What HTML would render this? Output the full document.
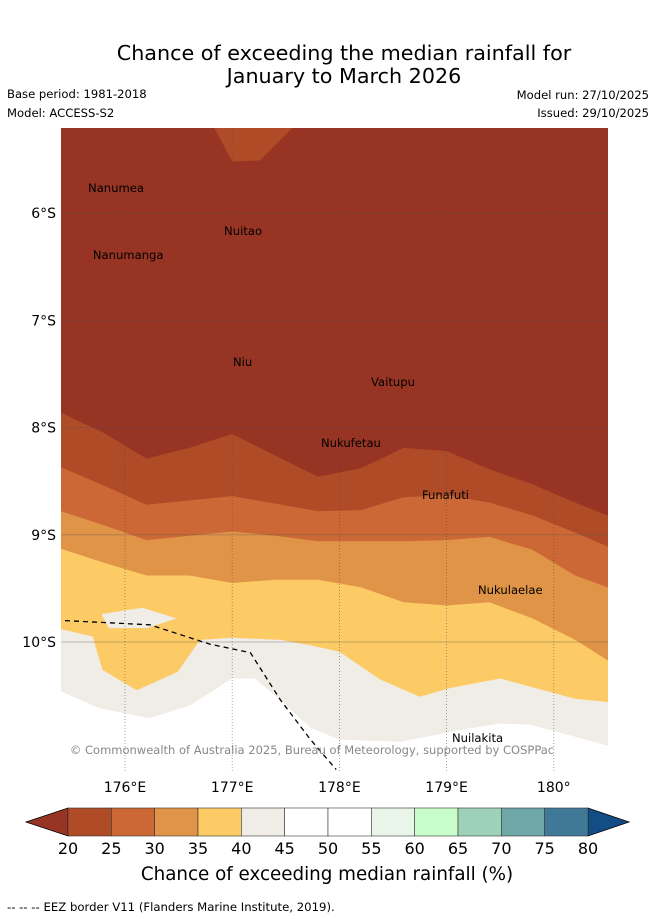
<!DOCTYPE html>
<html><head><meta charset="utf-8"><style>
body{margin:0;background:#fff;width:655px;height:919px;overflow:hidden;font-family:"DejaVu Sans","Liberation Sans",sans-serif}
svg{position:absolute;left:0;top:0}
</style></head><body>
<svg id="c" width="655" height="919" xmlns="http://www.w3.org/2000/svg">
<text x="344" y="60" text-anchor="middle" font-size="20.7">Chance of exceeding the median rainfall for</text>
<text x="344" y="83" text-anchor="middle" font-size="20.7">January to March 2026</text>
<text x="7" y="98" font-size="11.6">Base period: 1981-2018</text>
<text x="7" y="117" font-size="11.6">Model: ACCESS-S2</text>
<text x="649" y="99" font-size="11.6" text-anchor="end">Model run: 27/10/2025</text>
<text x="649" y="117" font-size="11.6" text-anchor="end">Issued: 29/10/2025</text>
<g id="map"></g>
<g id="cb"></g>
<text x="327" y="880" text-anchor="middle" font-size="18.3">Chance of exceeding median rainfall (%)</text>
<text x="7" y="911" font-size="11.7">-- -- -- EEZ border V11 (Flanders Marine Institute, 2019).</text>
</svg>
<script>
const lonGrid=[175.4,175.8,176.2,176.6,177.0,177.4,177.8,178.2,178.6,179.0,179.4,179.8,180.2,180.5];
const b1Lat=[7.86,8.05,8.29,8.19,8.06,8.26,8.46,8.38,8.19,8.22,8.39,8.53,8.70,8.82];
const b2Lat=[8.37,8.54,8.72,8.68,8.64,8.71,8.78,8.77,8.65,8.63,8.70,8.82,8.98,9.11];
const b3Lat=[8.78,8.91,9.05,9.01,8.97,9.01,9.06,9.06,9.06,9.05,9.02,9.14,9.38,9.49];
const b4Lat=[9.13,9.26,9.38,9.38,9.45,9.42,9.42,9.49,9.63,9.66,9.63,9.78,9.98,10.17];
const b5Lon=[175.40,175.70,175.73,175.79,176.11,176.49,176.70,177.00,177.45,177.73,178.00,178.38,178.75,179.03,179.50,179.87,180.20,180.51];
const b5Lat=[9.88,9.95,10.06,10.26,10.45,10.28,9.98,9.96,9.98,10.03,10.09,10.35,10.51,10.43,10.34,10.44,10.53,10.56];
const b6Lon=[175.40,175.77,176.23,176.61,177.00,177.21,177.45,177.73,178.00,178.57,179.13,179.50,179.78,180.15,180.51];
const b6Lat=[10.46,10.62,10.71,10.59,10.34,10.34,10.54,10.80,10.91,10.93,10.82,10.76,10.77,10.87,10.97];
const islandLon=[175.78,176.16,176.48,176.21,175.85];
const islandLat=[9.74,9.68,9.78,9.87,9.87];
const blobLon=[176.83,177.0,177.26,177.57];
const blobLat=[5.20,5.52,5.51,5.20];
const eezLon=[175.44,176.23,176.79,177.17,177.45,177.73,177.97];
const eezLat=[9.80,9.84,10.02,10.10,10.54,10.91,11.19];
const placeNames=["Nanumea","Nuitao","Nanumanga","Niu","Vaitupu","Nukufetau","Funafuti","Nukulaelae","Nuilakita"];
const placeLon=[175.655,176.924,175.70,177.007,178.295,177.828,178.770,179.293,179.05];
const placeLat=[5.804,6.205,6.429,7.427,7.613,8.182,8.667,9.552,10.932];
const lonTicks=[176,177,178,179,180];
const latTicks=[6,7,8,9,10];
const cbValues=[20,25,30,35,40,45,50,55,60,65,70,75,80];
const cbColors=["#b04b27","#cc6835","#e09448","#fdcb66","#f0ece6","#ffffff","#ffffff","#e9f5e9","#c8fcc8","#9dd1b8","#6fa6a8","#407998"];
const X0=61,X1=608,Y0=128,Y1=771;
const x=lon=>125+(lon-176)*107.2;
const y=lat=>213+(lat-6)*107.25;
const NS="http://www.w3.org/2000/svg";
const map=document.getElementById('map');
function mk(tag,attrs,parent){const e=document.createElementNS(NS,tag);for(const k in attrs)e.setAttribute(k,attrs[k]);(parent||map).appendChild(e);return e;}
const clip=mk('clipPath',{id:'mc'});mk('rect',{x:X0,y:Y0,width:X1-X0,height:Y1-Y0},clip);
const g=mk('g',{'clip-path':'url(#mc)'});
const bg=mk('rect',{x:X0,y:Y0,width:X1-X0,height:Y1-Y0,fill:'#983423'},g);


function band(lons,lats,fill,name){
  let d='M'+lons.map((l,i)=>x(l).toFixed(1)+','+y(lats[i]).toFixed(1)).join('L');
  d+='L'+(X1+5)+','+y(lats[lats.length-1]).toFixed(1)+'L'+(X1+5)+','+(Y1+5)+'L'+(X0-5)+','+(Y1+5)+'L'+(X0-5)+','+y(lats[0]).toFixed(1)+'Z';
  const p=mk('path',{d:d,fill:fill},g);
  
  
}
function poly(lons,lats,fill,name){
  const p=mk('polygon',{points:lons.map((l,i)=>x(l).toFixed(1)+','+y(lats[i]).toFixed(1)).join(' '),fill:fill},g);
  
  
}
band(lonGrid,b1Lat,'#b04b27','band-20-25');
poly(blobLon,blobLat,'#b04b27','band-20-25-north');
band(lonGrid,b2Lat,'#cc6835','band-25-30');
band(lonGrid,b3Lat,'#e09448','band-30-35');
band(lonGrid,b4Lat,'#fdcb66','band-35-40');
poly(islandLon,islandLat,'#f0ece6','band-40-45-pocket');
band(b5Lon,b5Lat,'#f0ece6','band-40-45');
band(b6Lon,b6Lat,'#ffffff','band-45-55');
lonTicks.forEach(l=>{const e=mk('line',{x1:x(l),x2:x(l),y1:Y0,y2:Y1,stroke:'#444','stroke-width':0.8,'stroke-dasharray':'1,2','stroke-opacity':0.6},g);


const t=mk('text',{x:x(l),y:Y1+21,'text-anchor':'middle','font-size':14});t.textContent=l+'°'+(l<180?'E':'');

});
latTicks.forEach(l=>{const e=mk('line',{x1:X0,x2:X1,y1:y(l),y2:y(l),stroke:'#555','stroke-width':1,'stroke-opacity':0.35},g);


const t=mk('text',{x:56,y:y(l)+5,'text-anchor':'end','font-size':14});t.textContent=l+'°S';

});
const eez=mk('polyline',{points:eezLon.map((l,i)=>x(l).toFixed(1)+','+y(eezLat[i]).toFixed(1)).join(' '),fill:'none',stroke:'#000','stroke-width':1.3,'stroke-dasharray':'5,4'},g);


placeNames.forEach((n,i)=>{const t=mk('text',{x:x(placeLon[i]),y:y(placeLat[i]),'text-anchor':'start','font-size':11.6},g);t.textContent=n;

});
const cr=mk('text',{x:312,y:754,'text-anchor':'middle','font-size':11.5,fill:'#888'},g);cr.textContent='© Commonwealth of Australia 2025, Bureau of Meteorology, supported by COSPPac';


const cb=document.getElementById('cb');
const cx0=68,cx1=588,cy0=808,cy1=836,w=(cx1-cx0)/cbColors.length;
const lt=mk('polygon',{points:`26,822 ${cx0},${cy0} ${cx0},${cy1}`,fill:'#983423',stroke:'#000','stroke-width':0.8},cb);


const rt=mk('polygon',{points:`629,822 ${cx1},${cy0} ${cx1},${cy1}`,fill:'#134d85',stroke:'#000','stroke-width':0.8},cb);


cbColors.forEach((c,i)=>{const r=mk('rect',{x:cx0+i*w,y:cy0,width:w,height:cy1-cy0,fill:c,stroke:'#333','stroke-width':0.6},cb);

});
cbValues.forEach((v,i)=>{const t=mk('text',{x:cx0+i*w,y:854,'text-anchor':'middle','font-size':16},cb);t.textContent=v;

});
</script>
</body></html>
